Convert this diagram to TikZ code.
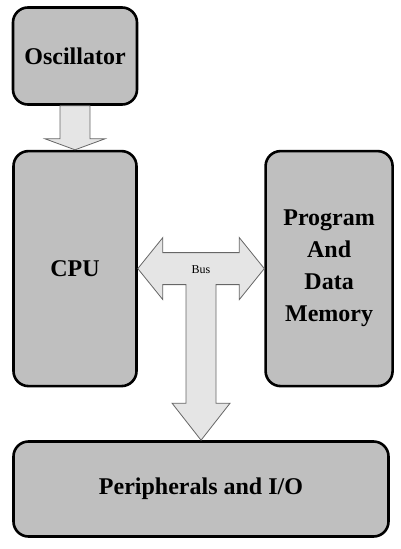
\documentclass[tikz,border=0pt]{standalone}
\usepackage{fontspec}
\setmainfont{Liberation Serif}
\usetikzlibrary{calc,positioning}

\begin{document}
\begin{tikzpicture}[
    x=1pt, y=-1pt,
    every node/.style={font=\fontsize{24}{32}\selectfont\bfseries},
    block/.style={draw, line width=2.6pt, rounded corners=15pt, align=center, fill=black!25, inner sep=0pt},
    fatarrow/.style={draw=black!60, line width=0.8pt, fill=black!10, line join=miter}
]
\useasboundingbox (0,0) rectangle (400,549);
\node[block, minimum width=124pt, minimum height=97pt] (osc) at (75,56) {Oscillator};
\node[block, minimum width=123pt, minimum height=235pt, below=44pt of osc] (cpu) {CPU};
\node[block, minimum width=127pt, minimum height=235pt, right=126.5pt of cpu] (mem) {Program\\And\\Data\\Memory};
\node[block, minimum width=375pt, minimum height=95pt] (per) at (201,489) {Peripherals and I/O};
\coordinate (busmid) at ($(cpu.east)!0.5!(mem.west)$);
% clock arrow
\draw[fatarrow] ($(osc.south)+(-15,0)$) -- ++(30,0) -- ($(cpu.north)+(15,-11)$) -- ++(15,0)
    -- (cpu.north) -- ++(-30,-11) -- ++(15,0) -- cycle;
% bus
\draw[fatarrow] (cpu.east) -- ++(25,-31) -- ++(0,15) -- ($(mem.west)+(-25,-16)$) -- ++(0,-15)
    -- (mem.west) -- ++(-25,31) -- ++(0,-15) -- ($(busmid)+(15,16)$)
    -- ($(busmid |- per.north)+(15,-37)$) -- ++(14,0) -- (busmid |- per.north) -- ++(-29,-37)
    -- ++(14,0) -- ($(busmid)+(-15,16)$) -- ($(cpu.east)+(25,16)$) -- ++(0,15) -- cycle;
\node[font=\fontsize{12}{14}\selectfont] (bus) at ($(busmid)+(0,1)$) {Bus};
\end{tikzpicture}
\end{document}
